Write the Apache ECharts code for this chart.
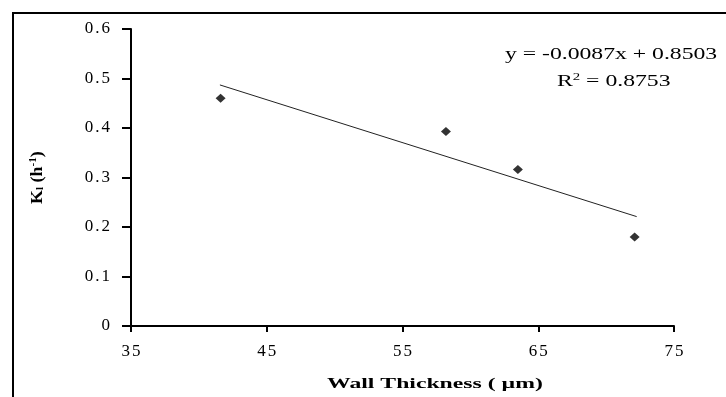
<!DOCTYPE html>
<html>
<head>
<meta charset="utf-8">
<script src="https://cdn.jsdelivr.net/npm/echarts@6/dist/echarts.min.js"></script>
<style>
html,body{margin:0;padding:0;background:#fff}
#Chart{width:726px;height:397px}
</style>
</head>
<body>
<div id="Chart"></div>
<script>
// wall thickness (um) and K values
var thickness=[41.6,58.2,63.5,72.1]
var kValues=[0.46,0.393,0.316,0.18]
// linear trend end points, as drawn
var trendX=[41.55,72.25]
var trendY=[0.487,0.221]
var xTicks=[35,45,55,65,75]
var yTicks=[0,0.1,0.2,0.3,0.4,0.5,0.6]

var serif='"Liberation Serif","DejaVu Serif",serif'

//每个字符单独拉开一点
function spread(s){
    var out=''
    for(var i=0;i<s.length;i++) out+='{c|'+s.charAt(i)+'}'
    return out
}

function drawChar(){
    var myChart=echarts.init(document.getElementById('Chart'))
    var points=[],trend=[]
    $each(thickness,function(i,x){ points.push([x,kValues[i]]) })
    $each(trendX,function(i,x){ trend.push([x,trendY[i]]) })

    var tickRich={c:{fontFamily:serif,fontSize:17,color:'#000',padding:[0,1,0,1]}}

    var option={
        backgroundColor:'#fff',
        animation:false,
        grid:{left:131,right:52,top:29,bottom:71},
        xAxis:{
            type:'value',min:xTicks[0],max:xTicks[xTicks.length-1],interval:10,
            axisLine:{onZero:false,lineStyle:{color:'#000',width:2}},
            axisTick:{show:true,length:6,lineStyle:{color:'#000',width:2}},
            axisLabel:{margin:17,formatter:function(v){return spread(String(v))},rich:tickRich},
            splitLine:{show:false}
        },
        yAxis:{
            type:'value',min:yTicks[0],max:yTicks[yTicks.length-1],interval:0.1,
            axisLine:{show:true,lineStyle:{color:'#000',width:2}},
            axisTick:{show:true,length:9,lineStyle:{color:'#000',width:2}},
            axisLabel:{margin:20,
                formatter:function(v){return spread(v===0?'0':v.toFixed(1))},rich:tickRich},
            splitLine:{show:false}
        },
        series:[
            {
                type:'line',data:trend,symbol:'none',
                lineStyle:{color:'#222',width:1},silent:true
            },
            {
                type:'scatter',data:points,symbol:'diamond',symbolSize:[10,9],
                itemStyle:{color:'#000'}
            }
        ],
        graphic:[
            {type:'rect',shape:{x:13,y:13,width:720,height:390},
             style:{fill:'none',stroke:'#000',lineWidth:2}},
            {type:'text',x:505,y:47,scaleX:1.48,
             style:{text:'y = -0.0087x + 0.8503',font:'16px '+serif,fill:'#000'}},
            {type:'text',x:557,y:72,scaleX:1.48,
             style:{text:'{n|R}{s|2}{n| = 0.8753}',
                rich:{n:{font:'16px '+serif,fill:'#000'},
                      s:{font:'10px '+serif,fill:'#000',padding:[0,0,9,0]}}}},
            {type:'text',x:327,y:377,scaleX:1.58,
             style:{text:'Wall Thickness ( \u00b5m)',font:'bold 15px '+serif,fill:'#000'}},
            {type:'text',x:28,y:204,rotation:Math.PI/2,scaleX:1.12,
             style:{text:'{n|K}{l|l}{n| (h}{s|-1}{n|)}',
                rich:{n:{font:'bold 16px '+serif,fill:'#000'},
                      l:{font:'bold 10px '+serif,fill:'#000',padding:[5,0,0,0]},
                      s:{font:'bold 10px '+serif,fill:'#000',padding:[0,0,9,0]}}}}
        ]
    }
    myChart.setOption(option)
}

function $each(arr,fn){ for(var i=0;i<arr.length;i++) fn(i,arr[i]) }

drawChar()
</script>
</body>
</html>
